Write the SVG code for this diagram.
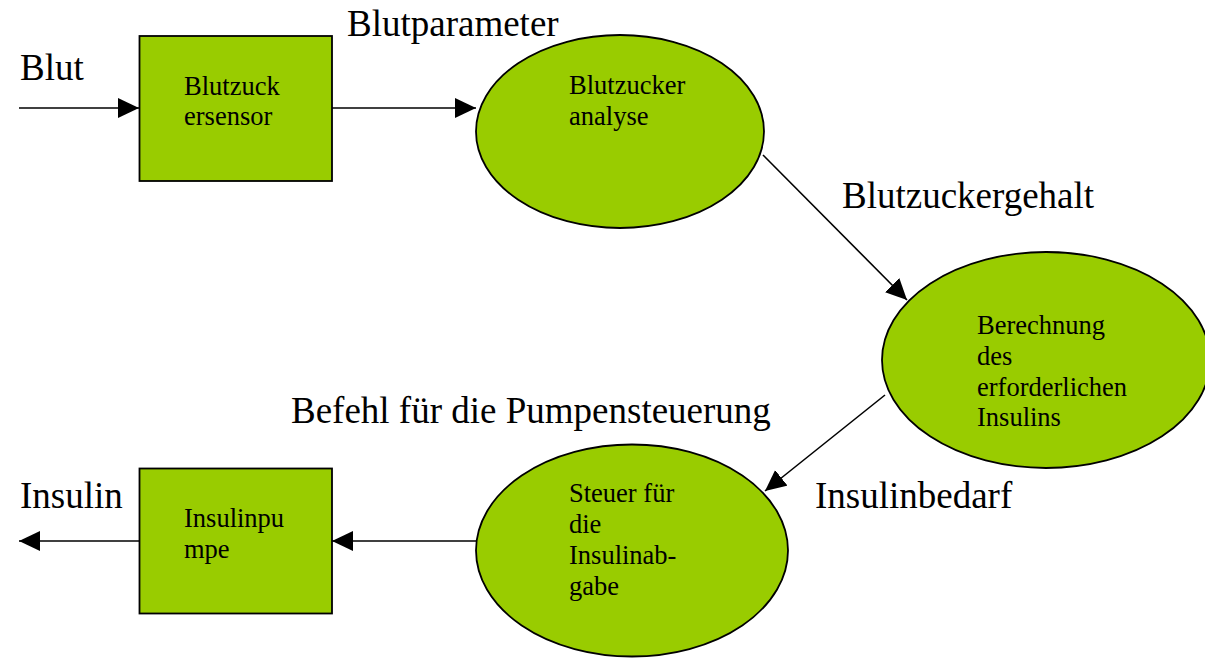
<svg xmlns="http://www.w3.org/2000/svg" width="1205" height="658" viewBox="0 0 1205 658">
  <defs>
    <style>
      .node { fill: #99CC00; stroke: #000; stroke-width: 1.8; }
      .big { font-family: 'Liberation Serif', serif; font-size: 37px; fill: #000; }
      .small { font-family: 'Liberation Serif', serif; font-size: 26.5px; fill: #000; }
      .conn { stroke: #000; stroke-width: 1.6; fill: none; marker-end: url(#arrow); }
    </style>
    <marker id="arrow" markerUnits="userSpaceOnUse" markerWidth="22" markerHeight="22" refX="21" refY="10" orient="auto">
      <path d="M0,0 L21,10 L0,20 z" fill="#000"/>
    </marker>
  </defs>
  <rect width="1205" height="658" fill="#fff"/>

  <g id="connectors">
    <line class="conn" x1="19" y1="108" x2="139" y2="108"/>
    <line class="conn" x1="332" y1="108" x2="476" y2="108"/>
    <line class="conn" x1="763" y1="155" x2="907" y2="300"/>
    <line class="conn" x1="885" y1="395" x2="765" y2="491"/>
    <line class="conn" x1="476" y1="541" x2="332" y2="541"/>
    <line class="conn" x1="139" y1="541" x2="19" y2="541"/>
  </g>

  <g id="labels">
    <text class="big" x="20" y="80">Blut</text>
    <text class="big" x="347" y="36">Blutparameter</text>
    <text class="big" x="842" y="208">Blutzuckergehalt</text>
    <text class="big" x="291" y="423">Befehl für die Pumpensteuerung</text>
    <text class="big" x="815" y="508">Insulinbedarf</text>
    <text class="big" x="20" y="508">Insulin</text>
  </g>

  <g id="blutzuckersensor">
    <rect class="node" x="139.5" y="36" width="192.5" height="145"/>
    <text class="small" x="184" y="95">Blutzuck</text>
    <text class="small" x="184" y="125">ersensor</text>
  </g>

  <g id="blutzuckeranalyse">
    <ellipse class="node" cx="620" cy="131.5" rx="144" ry="96.5"/>
    <text class="small" x="569" y="94">Blutzucker</text>
    <text class="small" x="569" y="125">analyse</text>
  </g>

  <g id="berechnung">
    <ellipse class="node" cx="1046" cy="360" rx="164" ry="108"/>
    <text class="small" x="977" y="334">Berechnung</text>
    <text class="small" x="977" y="365">des</text>
    <text class="small" x="977" y="396">erforderlichen</text>
    <text class="small" x="977" y="426">Insulins</text>
  </g>

  <g id="steuer">
    <ellipse class="node" cx="632" cy="550.5" rx="156" ry="106"/>
    <text class="small" x="569" y="502">Steuer für</text>
    <text class="small" x="569" y="533">die</text>
    <text class="small" x="569" y="564">Insulinab-</text>
    <text class="small" x="569" y="595">gabe</text>
  </g>

  <g id="insulinpumpe">
    <rect class="node" x="139.5" y="468.5" width="192.5" height="145"/>
    <text class="small" x="184" y="527">Insulinpu</text>
    <text class="small" x="184" y="558">mpe</text>
  </g>
</svg>
